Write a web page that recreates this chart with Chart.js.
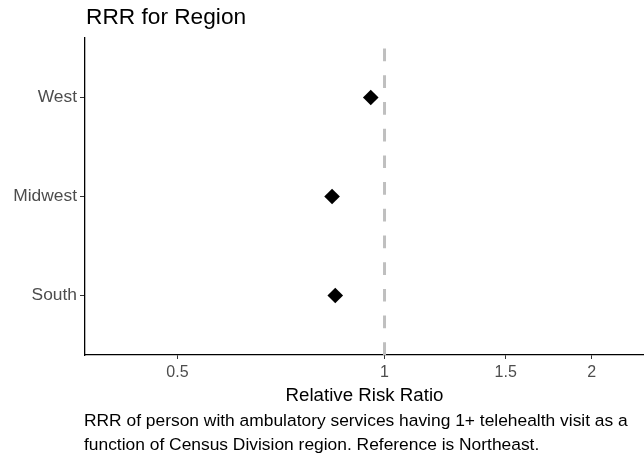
<!DOCTYPE html>
<html>
<head>
<meta charset="utf-8">
<script src="https://cdn.jsdelivr.net/npm/chart.js@4/dist/chart.umd.min.js"></script>
<style>
  html, body { margin: 0; padding: 0; background: #fff; overflow: hidden; }
  #wrap { width: 644px; height: 458px; position: relative; }
</style>
</head>
<body>
<div id="wrap"><canvas id="c" width="644" height="458"></canvas></div>
<script>
// Regions, bottom to top as they appear on the y axis
const regions = ['South', 'Midwest', 'West'];
// Relative risk ratio for each region (reference: Northeast)
const rrr = [0.848, 0.839, 0.955];
// Reference line at RRR = 1
const refValue = 1;
// Tick values on the log x axis
const xTicks = [0.5, 1, 1.5, 2];
const xMin = 0.367, xMax = 2.383;

const titleText = 'RRR for Region';
const xTitle = 'Relative Risk Ratio';
const captionLines = [
  'RRR of person with ambulatory services having 1+ telehealth visit as a',
  'function of Census Division region. Reference is Northeast.'
];

const FONT = '"Liberation Sans", Arial, sans-serif';

const points = regions.map((r, i) => ({ x: rrr[i], y: i + 1 }));

// Title and caption text
const textPlugin = {
  id: 'texts',
  afterDraw(chart) {
    const ctx = chart.ctx;
    const area = chart.chartArea;
    ctx.save();
    ctx.fillStyle = '#000';
    ctx.textAlign = 'left';
    ctx.textBaseline = 'alphabetic';
    ctx.font = '22.7px ' + FONT;
    ctx.fillText(titleText, area.left + 1, 24);
    ctx.font = '17.4px ' + FONT;
    captionLines.forEach((line, i) => ctx.fillText(line, area.left - 1, 426 + i * 23.5));
    ctx.restore();
  }
};

new Chart(document.getElementById('c'), {
  type: 'scatter',
  data: {
    datasets: [
      {
        type: 'line',
        data: [{ x: refValue, y: 0.4 }, { x: refValue, y: 3.6 }],
        borderColor: '#bfbfbf',
        borderWidth: 3,
        borderDash: [12.7, 14],
        pointRadius: 0,
        fill: false,
        order: 2
      },
      {
        data: points,
        pointStyle: 'rectRot',
        pointRadius: 7.8,
        backgroundColor: '#000',
        borderColor: '#000',
        borderWidth: 0,
        order: 1
      }
    ]
  },
  options: {
    responsive: false,
    animation: false,
    events: [],
    layout: { autoPadding: false, padding: { top: 38, left: 0, right: 0, bottom: 51 } },
    plugins: { legend: { display: false }, tooltip: { enabled: false }, title: { display: false } },
    scales: {
      x: {
        type: 'logarithmic',
        min: xMin,
        max: xMax,
        afterBuildTicks(scale) { scale.ticks = xTicks.map(v => ({ value: v })); },
        afterFit(scale) { scale.height = 52; },
        ticks: {
          autoSkip: false,
          maxRotation: 0,
          color: '#4d4d4d',
          font: { family: FONT, size: 16 },
          padding: 4,
          callback: v => String(v)
        },
        grid: { display: true, drawOnChartArea: false, drawTicks: true, tickLength: 4, color: '#333', lineWidth: 1 },
        border: { display: true, color: '#000', width: 1.3 },
        title: {
          display: true,
          text: xTitle,
          color: '#000',
          font: { family: FONT, size: 18.7 },
          padding: { top: 2, bottom: 0 }
        }
      },
      y: {
        type: 'linear',
        min: 0.4,
        max: 3.6,
        afterBuildTicks(scale) { scale.ticks = regions.map((r, i) => ({ value: i + 1 })); },
        afterFit(scale) { scale.width = 85; },
        ticks: {
          autoSkip: false,
          color: '#4d4d4d',
          font: { family: FONT, size: 17.4 },
          padding: 3,
          callback: v => regions[Math.round(v) - 1] || ''
        },
        grid: { display: true, drawOnChartArea: false, drawTicks: true, tickLength: 5, color: '#333', lineWidth: 1 },
        border: { display: true, color: '#000', width: 1.3 }
      }
    }
  },
  plugins: [textPlugin]
});
</script>
</body>
</html>
